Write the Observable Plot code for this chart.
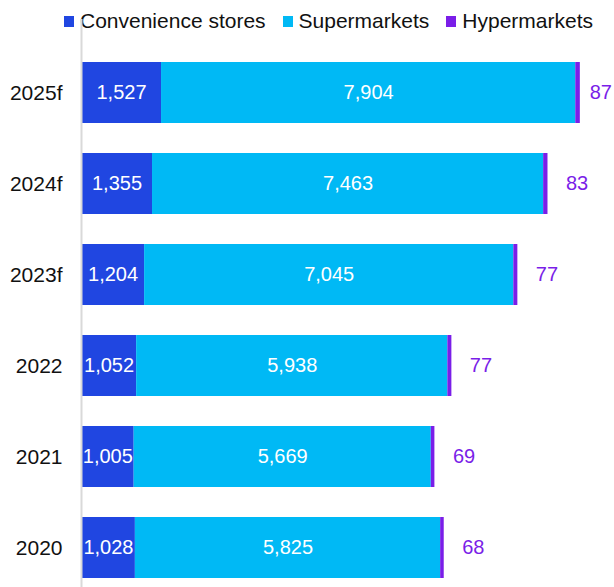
<!DOCTYPE html>
<html>
<head>
<meta charset="utf-8">
<script src="https://cdn.jsdelivr.net/npm/d3@7"></script>
<script src="https://cdn.jsdelivr.net/npm/@observablehq/plot@0.6"></script>
<style>
  body { margin: 0; background: #fff; font-family: "Liberation Sans", Arial, sans-serif; }
  #legend { height: 33px; display: flex; justify-content: flex-end; align-items: center; padding-right: 21px; font-size: 21px; color: #111; box-sizing: border-box; padding-top: 8px; }
  .item { display: flex; align-items: center; margin-left: 17px; }
  .sw { width: 10px; height: 11px; margin-right: 6px; margin-top: 1px; }
  svg { display: block; }
</style>
</head>
<body>
<div id="legend"></div>
<div id="chart"></div>
<script>
const years = ["2025f", "2024f", "2023f", "2022", "2021", "2020"];
const convenience = [1527, 1355, 1204, 1052, 1005, 1028];
const supermarkets = [7904, 7463, 7045, 5938, 5669, 5825];
const hypermarkets = [87, 83, 77, 77, 69, 68];
const seriesNames = ["Convenience stores", "Supermarkets", "Hypermarkets"];
const colors = ["#2046E1", "#00B9F5", "#7A1EE8"];

const rows = [];
years.forEach((y, i) => {
  [convenience, supermarkets, hypermarkets].forEach((arr, k) => {
    rows.push({ year: y, series: seriesNames[k], value: arr[i] });
  });
});
const totals = years.map((y, i) => ({ year: y, total: convenience[i] + supermarkets[i] + hypermarkets[i], hyper: hypermarkets[i] }));

const legend = document.getElementById("legend");
seriesNames.forEach((n, k) => {
  const it = document.createElement("div");
  it.className = "item";
  it.innerHTML = `<div class="sw" style="background:${colors[k]}"></div><span>${n}</span>`;
  legend.appendChild(it);
});

const fmt = d3.format(",");
const chart = Plot.plot({
  width: 614,
  height: 554,
  marginLeft: 81,
  marginRight: 0,
  marginTop: 8,
  marginBottom: 0,
  style: { fontFamily: "Liberation Sans, Arial, sans-serif", fontSize: "20px", color: "#111", overflow: "visible" },
  x: { domain: [0, 10170], axis: null },
  y: { domain: years, padding: 0.33, paddingOuter: 0.165, align: 0.7, label: null, tickSize: 0, tickPadding: 19 },
  color: { domain: seriesNames, range: colors },
  marks: [
    Plot.barX(rows, Plot.stackX({ y: "year", x: "value", fill: "series", order: seriesNames })),
    Plot.text(rows.filter(d => d.series !== "Hypermarkets"), Plot.stackX({
      y: "year", x: "value", order: seriesNames, z: "series",
      text: d => fmt(d.value), fill: "white", fontSize: 20
    })),
    Plot.text(totals, { x: "total", y: "year", text: d => fmt(d.hyper), textAnchor: "start", dx: 18, fill: "#7A1EE8", fontSize: 20 }),
    Plot.ruleX([0], { stroke: "#d9d9d9", strokeWidth: 2, insetTop: -22, insetBottom: -8 }),
    Plot.axisY({ tickSize: 0, tickPadding: 19, fontSize: 21, fill: "#111" })
  ]
});
document.getElementById("chart").appendChild(chart);
// keep right-most label inside window
chart.querySelectorAll("text").forEach(t => {
  const b = t.getBoundingClientRect();
  if (b.right > 612) {
    const shift = b.right - 612;
    const g = t.getAttribute("transform") || "";
    t.setAttribute("transform", g + ` translate(${-shift},0)`);
  }
});
</script>
</body>
</html>
